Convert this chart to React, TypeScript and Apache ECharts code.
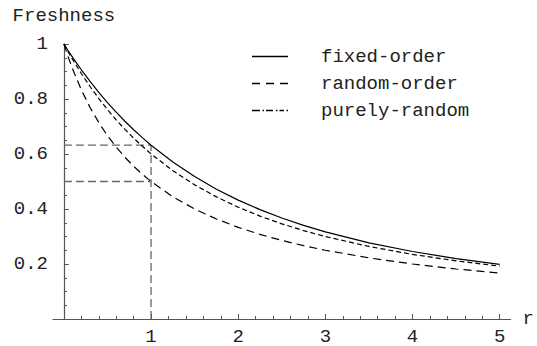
import React, { useEffect, useRef } from "react";
import * as echarts from "echarts";

const rValues = [0, 0.05, 0.1, 0.2, 0.3, 0.4, 0.5, 0.6, 0.7, 0.8, 0.9, 1, 1.25, 1.5, 1.75, 2, 2.25, 2.5, 2.75, 3, 3.5, 4, 4.5, 5];
const fixedOrder = [1, 0.9754, 0.9516, 0.9063, 0.8639, 0.8242, 0.7869, 0.752, 0.7192, 0.6883, 0.6594, 0.6321, 0.5708, 0.5179, 0.4721, 0.4323, 0.3976, 0.3672, 0.3404, 0.3167, 0.2771, 0.2454, 0.2198, 0.1987];
const randomOrder = [1, 0.9714, 0.944, 0.8927, 0.8454, 0.8017, 0.7614, 0.7242, 0.6897, 0.6577, 0.628, 0.6004, 0.5394, 0.4878, 0.4441, 0.4065, 0.3742, 0.3461, 0.3215, 0.2999, 0.2638, 0.2349, 0.2115, 0.1921];
const purelyRandom = [1, 0.9524, 0.9091, 0.8333, 0.7692, 0.7143, 0.6667, 0.625, 0.5882, 0.5556, 0.5263, 0.5, 0.4444, 0.4, 0.3636, 0.3333, 0.3077, 0.2857, 0.2667, 0.25, 0.2222, 0.2, 0.1818, 0.1667];

const seriesNames = ["fixed-order", "random-order", "purely-random"];
const xMajorTicks = [1, 2, 3, 4, 5];
const xMinorTicks = [0.2, 0.4, 0.6, 0.8, 1.2, 1.4, 1.6, 1.8, 2.2, 2.4, 2.6, 2.8, 3.2, 3.4, 3.6, 3.8, 4.2, 4.4, 4.6, 4.8];
const guideX = 1;
const guideLevels = [0.632, 0.5];

const FONT = "'Liberation Mono', 'DejaVu Sans Mono', monospace";
const TEXT = "#222";
const AXIS = "#555";

const legendIcons = [
  "path://M0,0H36V1.4H0Z",
  "path://M0,0H8V1.4H0Z M14,0H22V1.4H14Z M28,0H36V1.4H28Z",
  "path://M0,0H8V1.4H0Z M10.5,0H12V1.4H10.5Z M14,0H21V1.4H14Z M24,0H25.5V1.4H24Z M27.5,0H32V1.4H27.5Z M34.5,0H36V1.4H34.5Z",
];

export default function App() {
  const ref = useRef<HTMLDivElement>(null);
  useEffect(() => {
    document.body.style.margin = "0";
    const chart = echarts.init(ref.current!, undefined, { renderer: "svg" });
    const pairs = (ys: number[]) => rValues.map((r, i) => [r, ys[i]]);
    const curveStyle = (type: any) => ({ color: "#000", width: 1.2, type });
    const guideStyle = { color: "#666", width: 1.3, type: [8, 4] as any };
    chart.setOption({
      animation: false,
      textStyle: { fontFamily: FONT },
      grid: { left: 53, right: 25, top: 44, bottom: 19, containLabel: false },
      legend: {
        orient: "vertical",
        left: 252,
        top: 47,
        padding: 0,
        itemGap: 8,
        itemWidth: 36,
        itemHeight: 14,
        selectedMode: false,
        data: seriesNames.map((n, i) => ({ name: n, icon: legendIcons[i] })),
        textStyle: { fontFamily: FONT, fontSize: 19, color: TEXT, lineHeight: 19, padding: [0, 0, 0, 28] },
      },
      xAxis: [
        {
          type: "value",
          min: -0.125,
          max: 5.125,
          name: "r",
          nameLocation: "end",
          nameGap: 12,
          nameTextStyle: { fontFamily: FONT, fontSize: 19, color: TEXT, verticalAlign: "middle", padding: [0, 0, 8, 0] },
          axisLine: { show: true, onZero: true, lineStyle: { color: AXIS, width: 1.2 } },
          axisTick: { show: true, inside: true, length: 5, customValues: xMajorTicks, lineStyle: { color: AXIS } },
          axisLabel: { show: true, customValues: xMajorTicks, fontFamily: FONT, fontSize: 19, color: TEXT, margin: 8 },
          splitLine: { show: false },
        },
        {
          type: "value",
          min: -0.125,
          max: 5.125,
          position: "bottom",
          axisLine: { show: false },
          axisTick: { show: true, inside: true, length: 3, customValues: xMinorTicks, lineStyle: { color: AXIS } },
          axisLabel: { show: false },
          splitLine: { show: false },
        },
      ],
      yAxis: {
        type: "value",
        min: 0,
        max: 1,
        interval: 0.2,
        name: "Freshness",
        nameLocation: "end",
        nameGap: 19,
        nameTextStyle: { fontFamily: FONT, fontSize: 19, color: TEXT },
        axisLine: { show: true, onZero: true, lineStyle: { color: AXIS, width: 1.2 } },
        axisTick: { show: true, inside: true, length: 5, lineStyle: { color: AXIS } },
        minorTick: { show: true, splitNumber: 4, length: 3, lineStyle: { color: AXIS } },
        axisLabel: {
          fontFamily: FONT,
          fontSize: 19,
          color: TEXT,
          margin: 5,
          formatter: (v: number) => (v === 0 ? "" : v === 1 ? "1" : v.toFixed(1)),
        },
        splitLine: { show: false },
        minorSplitLine: { show: false },
      },
      series: [
        {
          name: "guide-h1",
          type: "line",
          data: [[0, guideLevels[0]], [guideX, guideLevels[0]]],
          showSymbol: false,
          lineStyle: guideStyle,
          z: 1,
        },
        {
          name: "guide-h2",
          type: "line",
          data: [[0, guideLevels[1]], [guideX, guideLevels[1]]],
          showSymbol: false,
          lineStyle: guideStyle,
          z: 1,
        },
        {
          name: "guide-v",
          type: "line",
          data: [[guideX, 0], [guideX, guideLevels[0]]],
          showSymbol: false,
          lineStyle: guideStyle,
          z: 1,
        },
        {
          name: seriesNames[0],
          type: "line",
          data: pairs(fixedOrder),
          showSymbol: false,
          smooth: false,
          itemStyle: { color: "#000" },
          lineStyle: curveStyle("solid"),
          z: 3,
        },
        {
          name: seriesNames[1],
          type: "line",
          data: pairs(randomOrder),
          showSymbol: false,
          smooth: false,
          itemStyle: { color: "#000" },
          lineStyle: curveStyle([5, 3]),
          z: 3,
        },
        {
          name: seriesNames[2],
          type: "line",
          data: pairs(purelyRandom),
          showSymbol: false,
          smooth: false,
          itemStyle: { color: "#000" },
          lineStyle: curveStyle([8, 5]),
          z: 3,
        },
      ],
    });
    return () => chart.dispose();
  }, []);
  return <div ref={ref} style={{ width: 537, height: 346 }} />;
}
